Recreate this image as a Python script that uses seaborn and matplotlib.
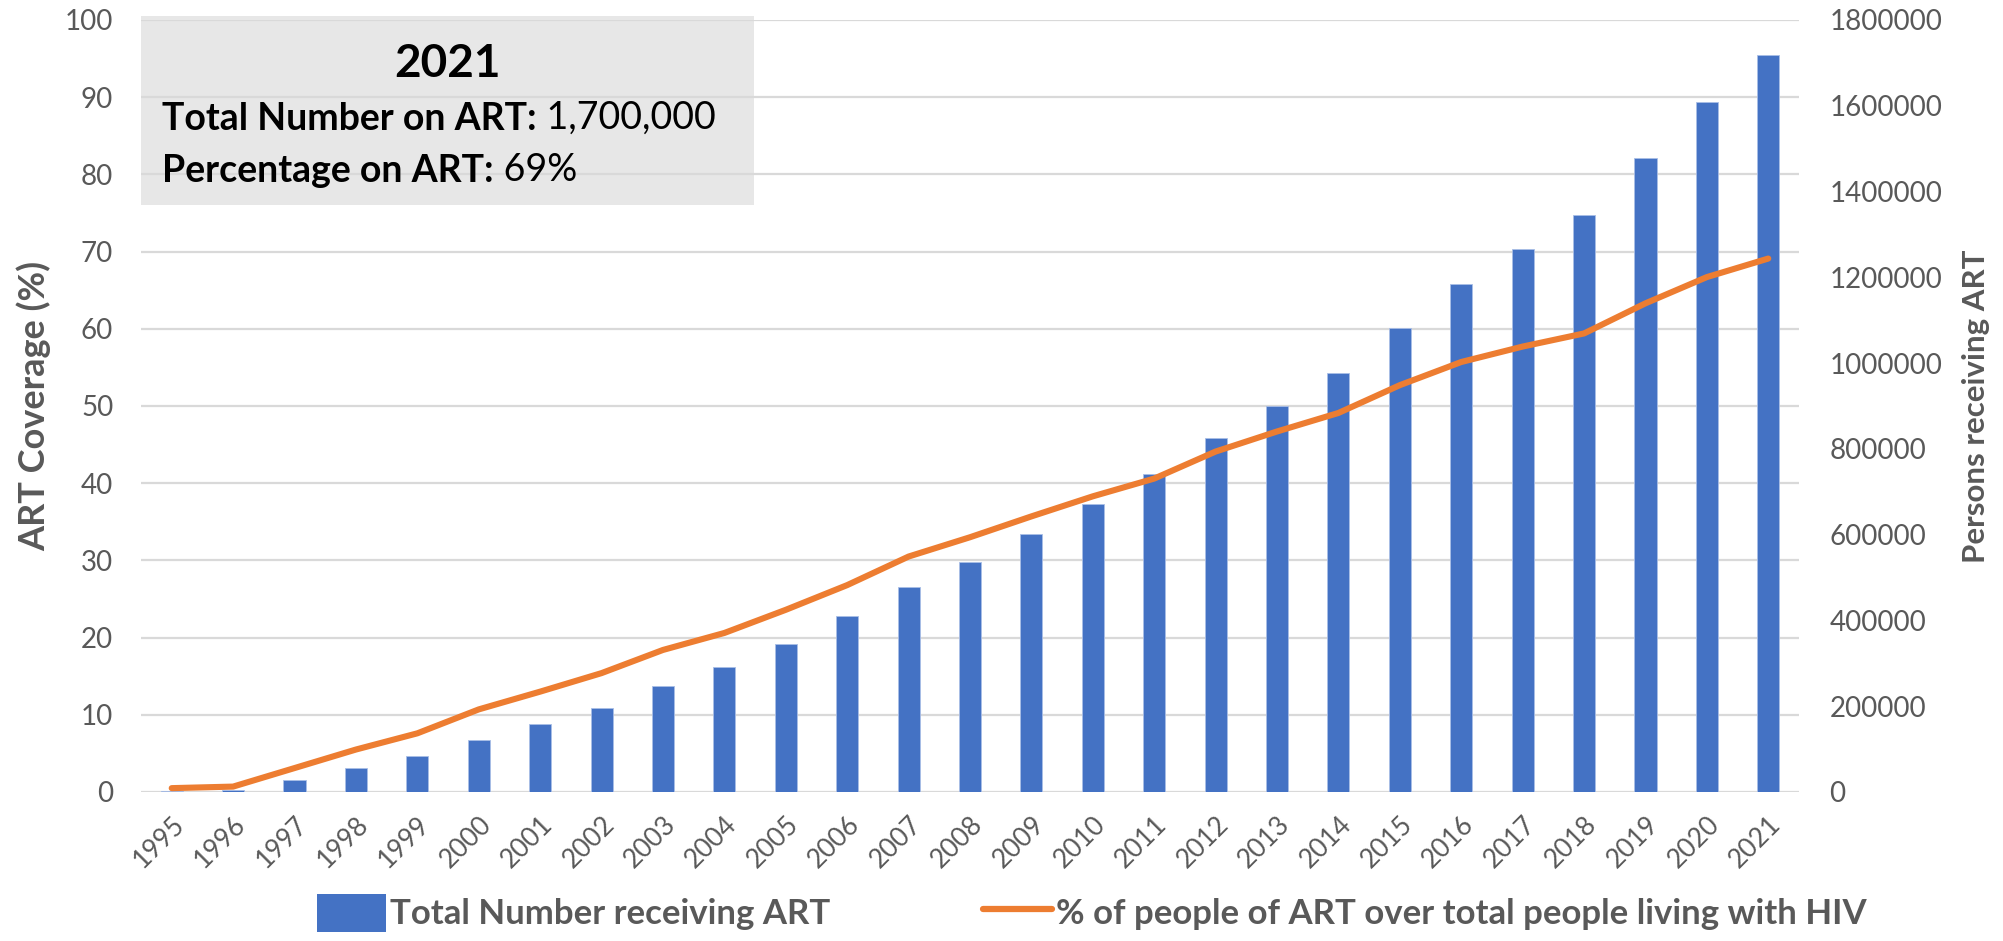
import numpy as np
import matplotlib
matplotlib.use('Agg')
import matplotlib.pyplot as plt
from matplotlib.patches import Rectangle, Patch
from matplotlib.lines import Line2D
import seaborn as sns

# data
years = list(range(1995, 2022))
persons_on_art = [3000, 4000, 28000, 55000, 83000, 121000, 158000, 197000, 247000,
                  291000, 345000, 411000, 478000, 536000, 602000, 672000, 741000,
                  826000, 900000, 978000, 1081000, 1184000, 1266000, 1346000,
                  1479000, 1609000, 1718000]
art_coverage = [0.5, 0.7, 3.1, 5.5, 7.6, 10.7, 13.0, 15.4, 18.4, 20.6, 23.6, 26.8,
                30.5, 33.0, 35.7, 38.3, 40.6, 44.1, 46.7, 49.1, 52.7, 55.7, 57.7,
                59.4, 63.3, 66.7, 69.1]
left_ticks = list(range(0, 101, 10))
right_ticks = list(range(0, 1800001, 200000))

bar_label = 'Total Number receiving ART'
line_label = '% of people of ART over total people living with HIV'
box_title = '2021'
box_lines = [('Total Number on ART:', ' 1,700,000'), ('Percentage on ART:', ' 69%')]

BLUE = '#4472C4'
ORANGE = '#ED7D31'
GREY = '#595959'
GRID = '#D9D9D9'

sns.set_style('white')
plt.rcParams['font.family'] = ['Lato', 'DejaVu Sans']

fig = plt.figure(figsize=(20.03, 9.41), dpi=100)
ax = fig.add_axes([141 / 2003, 1 - 792 / 941, (1799 - 141) / 2003, 772 / 941])

# grey info box behind everything
ax.add_patch(Rectangle((0, 0.760), 0.3697, 0.245, transform=ax.transAxes,
                       facecolor='#E7E7E7', edgecolor='none', zorder=0, clip_on=False))

# left axis: coverage %, carries the gridlines
ax.set_ylim(0, 100)
ax.set_yticks(left_ticks)
ax.yaxis.grid(True, color=GRID, linewidth=1.6)
ax.set_axisbelow(True)

# bars on the right axis
ax2 = ax.twinx()
sns.barplot(x=years, y=persons_on_art, ax=ax2, color=BLUE, saturation=1,
            width=0.36, edgecolor='#A9BEE6', linewidth=0.6)
ax2.set_ylim(0, 1800000)
ax2.set_yticks(right_ticks)
ax2.set_yticklabels([str(t) for t in right_ticks])

# line on its own twin so it draws above the bars
ax3 = ax.twinx()
sns.lineplot(x=np.arange(len(years)), y=art_coverage, ax=ax3, color=ORANGE,
             linewidth=4.4, solid_capstyle='round')
ax3.set_ylim(0, 100)
ax3.yaxis.set_visible(False)

for a in (ax, ax2, ax3):
    for s in a.spines.values():
        s.set_visible(False)
    a.set_xlim(-0.5, len(years) - 0.5)

ax.set_xticks(range(len(years)))
ax.set_xticklabels([str(y) for y in years], rotation=45, ha='right',
                   rotation_mode='anchor', fontsize=19, color=GREY)
ax.tick_params(axis='x', length=0, pad=14)
ax.tick_params(axis='y', length=0, pad=20, labelsize=20, labelcolor=GREY)
ax2.tick_params(axis='y', length=0, pad=22, labelsize=20, labelcolor=GREY)
ax.set_xlabel('')
ax2.set_xlabel('')
ax2.set_ylabel('Persons receiving ART', fontsize=22.5, fontweight='bold', color=GREY, labelpad=14)
ax.set_ylabel('ART Coverage (%)', fontsize=26, fontweight='bold', color=GREY, labelpad=10)

# box text: centred year, then bold caption followed by plain value
fig.text(447 / 2003, 1 - 77 / 941, box_title, ha='center', va='baseline',
         fontsize=33, fontweight='bold', color='black')
for i, (bold_part, plain_part) in enumerate(box_lines):
    t = fig.text(162 / 2003, 1 - (130 + 52 * i) / 941, bold_part, ha='left',
                 va='baseline', fontsize=27, fontweight='bold', color='black')
    ax.annotate(plain_part, xy=(1, 0), xycoords=t, ha='left', va='bottom',
                fontsize=27, color='black')

# legend along the bottom
handles = [Patch(facecolor=BLUE, edgecolor='none'),
           Line2D([0], [0], color=ORANGE, linewidth=4.5)]
leg = fig.legend(handles, [bar_label, line_label], loc='center',
                 bbox_to_anchor=(0.545, 0.030), ncol=2, frameon=False,
                 fontsize=25, handlelength=2.0, handleheight=1.3,
                 handletextpad=0.1, columnspacing=4.4)
for txt in leg.get_texts():
    txt.set_color(GREY)
    txt.set_fontweight('bold')

fig.savefig('out.png', dpi=100)
